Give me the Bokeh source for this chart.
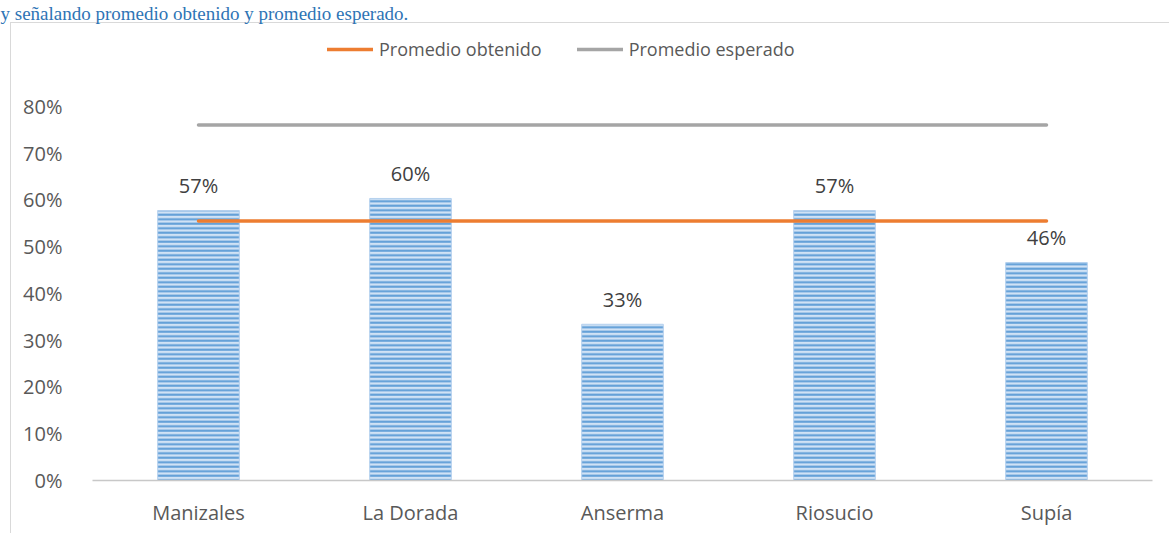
from bokeh.plotting import figure
from bokeh.models import (ColumnDataSource, Range1d, FactorRange, FixedTicker,
                          NumeralTickFormatter, Legend, LegendItem, Title)
from bokeh.core.properties import value
from bokeh.embed import file_html
from bokeh.resources import INLINE

# ---- data ----
municipios = ["Manizales", "La Dorada", "Anserma", "Riosucio", "Supía"]
porcentajes = [0.577, 0.603, 0.334, 0.577, 0.466]
etiquetas = ["57%", "60%", "33%", "57%", "46%"]
promedio_obtenido = 0.555
promedio_esperado = 0.76
y_ticks = [0.0, 0.1, 0.2, 0.3, 0.4, 0.5, 0.6, 0.7, 0.8]
titulo_texto = "y señalando promedio obtenido y promedio esperado."

FONT = "Open Sans"
W, H = 1169, 533
ML, MR, MT, MB = 92, 17, 22, 53
AXIS_TOP_PX = 105          # pixel row of the 80 % tick
frame_h = H - MT - MB
y_end = 0.8 * frame_h / (H - MB - AXIS_TOP_PX)

p = figure(width=W, height=H, x_range=FactorRange(*municipios, range_padding=0),
           y_range=Range1d(0, y_end), output_backend="svg", toolbar_location=None,
           min_border_left=ML, min_border_right=MR, min_border_top=MT, min_border_bottom=MB)
p.outline_line_color = None
p.xgrid.visible = False
p.ygrid.visible = False
p.border_fill_color = None
p.background_fill_color = None
p.styles = {
    "background-image": "linear-gradient(#d9d9d9, #d9d9d9), linear-gradient(#d9d9d9, #d9d9d9)",
    "background-size": "100% 1px, 1px 100%",
    "background-position": "10px 22px, 10px 22px",
    "background-repeat": "no-repeat",
}

p.title = Title(text=titulo_texto, align="left", offset=-ML, standoff=0,
                text_font="Liberation Serif", text_font_size="19px",
                text_font_style="normal", text_color="#2e74b5")

src = ColumnDataSource(dict(x=municipios, top=porcentajes, lab=etiquetas))
p.vbar(x="x", top="top", width=0.385, source=src,
       fill_color="#d0e2f5", line_color="#b4d0ee", line_width=1,
       hatch_pattern="horizontal_line", hatch_color="#5b9bd5",
       hatch_scale=4.5, hatch_weight=2)

p.text(x="x", y="top", text="lab", source=src, text_align="center",
       text_baseline="middle", y_offset=-25, text_font=value(FONT),
       text_font_size="20px", text_color="#404040")

r_obt = p.line(x=[municipios[0], municipios[-1]], y=[promedio_obtenido, promedio_obtenido],
               line_color="#ed7d31", line_width=3.5, line_cap="round")
r_esp = p.line(x=[municipios[0], municipios[-1]], y=[promedio_esperado, promedio_esperado],
               line_color="#a5a5a5", line_width=3.5, line_cap="round")

# axes
p.yaxis.ticker = FixedTicker(ticks=y_ticks)
p.yaxis.formatter = NumeralTickFormatter(format="0%")
p.yaxis.axis_line_color = None
p.yaxis.major_tick_line_color = None
p.yaxis.minor_tick_line_color = None
p.yaxis.major_label_standoff = 24
p.yaxis.major_label_text_font = FONT
p.yaxis.major_label_text_font_size = "20px"
p.yaxis.major_label_text_color = "#595959"

p.xaxis.axis_line_color = "#c8c8c8"
p.xaxis.axis_line_width = 1.5
p.xaxis.major_tick_line_color = None
p.xaxis.minor_tick_line_color = None
p.xaxis.major_label_standoff = 12
p.xaxis.major_label_text_font = FONT
p.xaxis.major_label_text_font_size = "20px"
p.xaxis.major_label_text_color = "#595959"

legend = Legend(items=[LegendItem(label="Promedio obtenido", renderers=[r_obt]),
                       LegendItem(label="Promedio esperado", renderers=[r_esp])],
                orientation="horizontal", location=(235, H - MB - 61),
                border_line_color=None, background_fill_alpha=0,
                padding=0, margin=0, spacing=35, label_standoff=6,
                glyph_width=46, glyph_height=20, label_height=20,
                label_text_font=FONT, label_text_font_size="18px",
                label_text_color="#595959")
p.add_layout(legend, "center")

open("out.html", "w").write(file_html(p, INLINE))
